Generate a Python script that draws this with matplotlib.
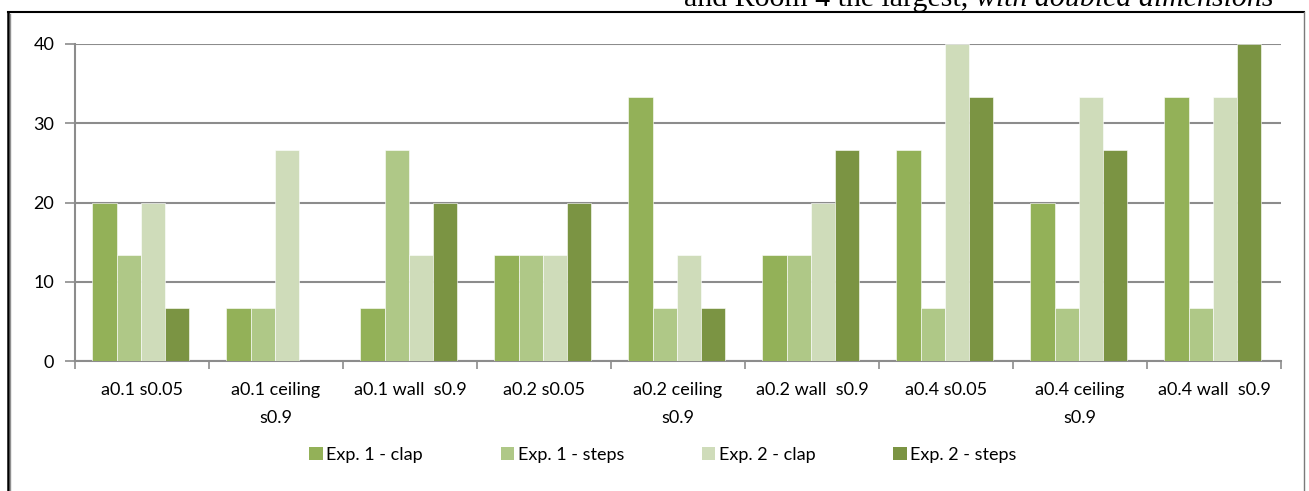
import matplotlib
matplotlib.use("Agg")
import matplotlib.pyplot as plt
from matplotlib.lines import Line2D
from matplotlib.patches import Patch
import numpy as np

categories = ["a0.1 s0.05", "a0.1 ceiling\ns0.9", "a0.1 wall  s0.9", "a0.2 s0.05",
              "a0.2 ceiling\ns0.9", "a0.2 wall  s0.9", "a0.4 s0.05", "a0.4 ceiling\ns0.9",
              "a0.4 wall  s0.9"]
series_names = ["Exp. 1 - clap", "Exp. 1 - steps", "Exp. 2 - clap", "Exp. 2 - steps"]
exp1_clap = [20, 6.67, 6.67, 13.33, 33.33, 13.33, 26.67, 20, 33.33]
exp1_steps = [13.33, 6.67, 26.67, 13.33, 6.67, 13.33, 6.67, 6.67, 6.67]
exp2_clap = [20, 26.67, 13.33, 13.33, 13.33, 20, 40, 33.33, 33.33]
exp2_steps = [6.67, 0, 20, 20, 6.67, 26.67, 33.33, 26.67, 40]
y_ticks = [0, 10, 20, 30, 40]

colors = ["#93B158", "#AFC887", "#CFDCBA", "#7B9443"]
series = [exp1_clap, exp1_steps, exp2_clap, exp2_steps]

W, H = 1309, 491
fig = plt.figure(figsize=(W / 100, H / 100), dpi=100)
font = "Lato"
fs = 13

ax = fig.add_axes([75 / W, 1 - 361 / H, (1281 - 75) / W, (361 - 44) / H])
x = np.arange(len(categories))
bw = 0.18
for i, (vals, c) in enumerate(zip(series, colors)):
    ax.bar(x + (i - 1.5) * bw - 0.01, vals, width=bw, color=c, edgecolor="white",
           linewidth=0.4, zorder=3, label=series_names[i])

ax.set_xlim(-0.5, len(categories) - 0.5)
ax.set_ylim(0, 40)
ax.set_yticks(y_ticks)
ax.set_yticklabels([str(t) for t in y_ticks], fontsize=fs, family=font)
ax.yaxis.grid(True, color="#8C8C8C", linewidth=1.5, zorder=0)
ax.tick_params(axis="y", length=7, width=1.2, color="#8C8C8C", pad=8)
ax.set_xticks(np.arange(len(categories) + 1) - 0.5)
ax.set_xticklabels([])
ax.tick_params(axis="x", length=6, width=1.2, color="#8C8C8C")
for xi, lab in zip(x, categories):
    ax.text(xi, -2.7, lab, ha="center", va="top", fontsize=fs, family=font,
            linespacing=1.9, transform=ax.transData, clip_on=False)
for s in ["top", "right"]:
    ax.spines[s].set_visible(False)
for s in ["left", "bottom"]:
    ax.spines[s].set_color("#8C8C8C")
    ax.spines[s].set_linewidth(1.5)
ax.set_axisbelow(True)

handles = [Patch(facecolor=c, edgecolor="none") for c in colors]
fig.legend(handles, series_names, loc="center", bbox_to_anchor=(663 / W, 1 - 455 / H),
           ncol=4, frameon=False, prop={"family": font, "size": fs},
           handlelength=0.75, handleheight=0.75, handletextpad=0.2, columnspacing=4.3)

# page frame
fl = dict(transform=fig.transFigure, clip_on=False)
fig.add_artist(Line2D([7.5 / W, 1304 / W], [1 - 12 / H, 1 - 12 / H], color="black", lw=1.5, **fl))
fig.add_artist(Line2D([7.5 / W, 7.5 / W], [0, 1 - 12 / H], color="black", lw=1.8, **fl))
fig.add_artist(Line2D([10 / W, 10 / W], [0, 1 - 14 / H], color="#909090", lw=1.0, **fl))
fig.add_artist(Line2D([1304 / W, 1304 / W], [0, 1 - 12 / H], color="#7A7A7A", lw=1.0, **fl))

# running text above the frame
t1 = fig.text(684 / W, 1 - 6.5 / H, "and Room 4 the largest, ", family="Liberation Serif",
              fontsize=21.5, va="baseline", ha="left")
fig.canvas.draw()
bb = t1.get_window_extent()
fig.text(bb.x1 / W, 1 - 6.5 / H, "with doubled dimensions", family="Liberation Serif",
         fontsize=21.5, style="italic", va="baseline", ha="left")

fig.savefig("out.png", dpi=100)
